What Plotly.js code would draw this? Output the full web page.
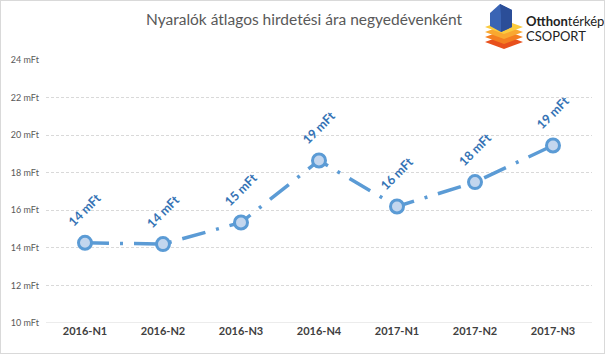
<!DOCTYPE html>
<html><head><meta charset="utf-8">
<script src="https://cdn.plot.ly/plotly-3.0.1.min.js"></script>
<style>html,body{margin:0;padding:0;background:#fff}#c{width:603px;height:352px;border:1px solid #D9D9D9}</style>
</head><body><div id="c"></div>
<script>
const categories = ["2016-N1","2016-N2","2016-N3","2016-N4","2017-N1","2017-N2","2017-N3"];
const values = [14.27, 14.2, 15.35, 18.65, 16.2, 17.5, 19.45];
const labels = ["14 mFt","14 mFt","15 mFt","19 mFt","16 mFt","18 mFt","19 mFt"];
const yTickVals = [10,12,14,16,18,20,22,24];
const yTickText = ["10 mFt","12 mFt","14 mFt","16 mFt","18 mFt","20 mFt","22 mFt","24 mFt"];
const titleText = "Nyaralók átlagos hirdetési ára negyedévenként";

const W = 603, H = 352;
const mL = 45, mR = 12, mT = 59, mB = 30;
const pw = W - mL - mR, ph = H - mT - mB;
function px(x){ return (x - mL) / pw; }
function py(y){ return 1 - (y - mT) / ph; }

const trace = {
  x: categories, y: values, type: 'scatter', mode: 'lines+markers',
  line: {color: '#5B9BD5', width: 3.5, dash: '24px,11px,3px,11px'},
  marker: {size: 13, color: '#C3D6EE', line: {color: '#5B9BD5', width: 3}},
  hoverinfo: 'skip'
};

const annotations = categories.map((c, i) => ({
  x: c, y: values[i], xref: 'x', yref: 'y', text: labels[i], showarrow: false,
  textangle: -45, yshift: 33, font: {family: 'Lato, "Open Sans", sans-serif', size: 12.5, color: '#3573B5', weight: 'bold'}
}));
annotations.push({xref:'paper', yref:'paper', x: px(523), y: py(20), xanchor:'left', yanchor:'middle', showarrow:false,
  text: '<b>Otthon</b>térkép', font:{family:'Lato, sans-serif', size:13, color:'#222'}});
annotations.push({xref:'paper', yref:'paper', x: px(523), y: py(35), xanchor:'left', yanchor:'middle', showarrow:false,
  text: 'CSOPORT', font:{family:'Lato, sans-serif', size:13, color:'#222'}});

function layer(y0, color){
  const pts = [[484,y0],[503,y0-7],[522,y0],[503,y0+7]];
  return {type:'path', xref:'paper', yref:'paper', layer:'above',
    path: 'M ' + pts.map(p => px(p[0]) + ',' + py(p[1])).join(' L ') + ' Z',
    fillcolor: color, line:{width:0}};
}
const shapes = [
  layer(41, '#E8501C'), layer(36, '#F47F20'), layer(31, '#F9A830'), layer(26, '#FBCB3E'),
  {type:'path', xref:'paper', yref:'paper', layer:'above',
   path: 'M '+[[489,12],[499,3],[511,9],[511,26],[500,31],[489,25]].map(p=>px(p[0])+','+py(p[1])).join(' L ')+' Z',
   fillcolor:'#3A64B4', line:{width:0}},
  {type:'path', xref:'paper', yref:'paper', layer:'above',
   path: 'M '+[[499,3],[511,9],[511,26],[500,31],[500,14]].map(p=>px(p[0])+','+py(p[1])).join(' L ')+' Z',
   fillcolor:'#2B4E98', line:{width:0}}
];

const layout = {
  width: W, height: H,
  margin: {l: mL, r: mR, t: mT, b: mB},
  paper_bgcolor: '#fff', plot_bgcolor: '#fff',
  showlegend: false,
  title: {text: titleText, x: 303/W, xref: 'container', xanchor: 'center', y: 1 - 19/H, yanchor: 'middle',
    font: {family: 'Lato, "Open Sans", sans-serif', size: 15.5, color: '#595959'}},
  xaxis: {type: 'category', tickvals: categories, ticktext: categories, showgrid: false, zeroline: false,
    showline: false, ticks: '', range: [-0.5, 6.5],
    tickfont: {family: 'Lato, "Open Sans", sans-serif', size: 11, color: '#404040', weight: 'bold'}},
  yaxis: {range: [10, 24], tickvals: yTickVals, ticktext: yTickText, showgrid: true,
    gridcolor: '#D9D9D9', griddash: '3px,2px', gridwidth: 1, zeroline: false, showline: false, ticks: '',
    ticklabelstandoff: 6,
    tickfont: {family: 'Lato, "Open Sans", sans-serif', size: 9, color: '#595959'}},
  annotations: annotations, shapes: shapes
};
layout.shapes.push({type:'line', xref:'paper', yref:'y', x0:0, x1:1, y0:10, y1:10, line:{color:'#D9D9D9', width:1}, layer:'below'});

Plotly.newPlot('c', [trace], layout, {displayModeBar: false, staticPlot: true});
</script></body></html>
